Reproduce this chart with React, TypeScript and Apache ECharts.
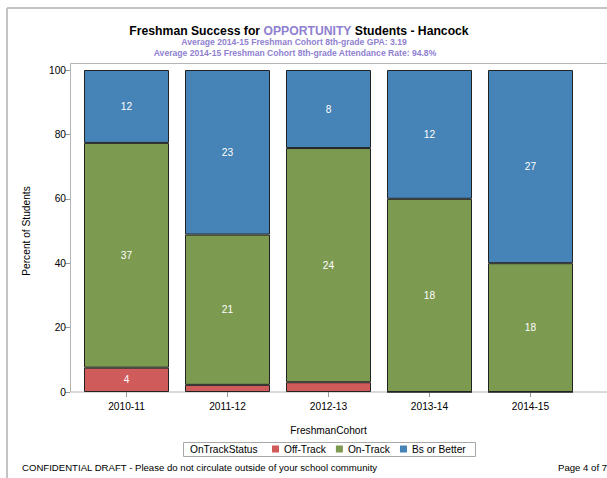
import React, { useEffect, useRef } from "react";
import * as echarts from "echarts";

const categories = ["2010-11", "2011-12", "2012-13", "2013-14", "2014-15"];
const offTrack = [4, 1, 1, 0, 0];
const onTrack = [37, 21, 24, 18, 18];
const bsOrBetter = [12, 23, 8, 12, 27];
const yTicks = [0, 20, 40, 60, 80, 100];

const FONT = "'Liberation Sans', Arial, sans-serif";

export default function App() {
  const ref = useRef<HTMLDivElement>(null);
  useEffect(() => {
    if (!ref.current) return;
    const chart = echarts.init(ref.current, null, { renderer: "svg" });
    const totals = categories.map((_, i) => offTrack[i] + onTrack[i] + bsOrBetter[i]);
    const mk = (arr: number[]) =>
      arr.map((v, i) => ({
        value: (v / totals[i]) * 100,
        count: v,
        label: { show: v >= 2 },
      }));
    const seriesDefs = [
      { name: "Off-Track", data: offTrack, color: "#cf5b5b" },
      { name: "On-Track", data: onTrack, color: "#7d9a51" },
      { name: "Bs or Better", data: bsOrBetter, color: "#4683b6" },
    ];
    chart.setOption({
      animation: false,
      textStyle: { fontFamily: FONT },
      grid: { left: 76, width: 505, top: 70, bottom: 86 },
      title: {
        text: "{b|Freshman Success for }{p|OPPORTUNITY}{b| Students - Hancock}",
        left: 294,
        textAlign: "center",
        top: 20,
        textStyle: {
          rich: {
            b: { fontSize: 12.2, fontWeight: "bold", color: "#000", fontFamily: FONT },
            p: { fontSize: 12.2, color: "#8f7fd0", fontFamily: FONT },
          },
        },
      },
      legend: {
        data: seriesDefs.map((s) => s.name),
        left: 272,
        top: 444,
        padding: 0,
        itemWidth: 7,
        itemHeight: 7,
        itemGap: 10,
        icon: "rect",
        itemStyle: { borderWidth: 0 },
        textStyle: { fontSize: 10.2, color: "#000", fontFamily: FONT },
      },
      xAxis: {
        type: "category",
        data: categories,
        name: "FreshmanCohort",
        nameLocation: "middle",
        nameGap: 33,
        nameTextStyle: { fontSize: 10.2, color: "#000" },
        axisLine: { show: false },
        axisTick: { show: true, alignWithLabel: true, length: 5, lineStyle: { color: "#999" } },
        axisLabel: { fontSize: 10.2, color: "#000", margin: 9 },
      },
      yAxis: {
        type: "value",
        min: 0,
        max: 100,
        interval: 20,
        offset: 6,
        name: "Percent of Students",
        nameLocation: "middle",
        nameGap: 39,
        nameTextStyle: { fontSize: 10.2, color: "#000" },
        axisLine: { show: false },
        axisTick: { show: true, length: 5, lineStyle: { color: "#999" } },
        axisLabel: {
          fontSize: 10.2,
          color: "#000",
          margin: 4,
          customValues: yTicks,
        },
        splitLine: { show: false },
      },
      series: seriesDefs.map((s) => ({
        name: s.name,
        type: "bar",
        stack: "all",
        barWidth: 85,
        data: mk(s.data),
        itemStyle: { color: s.color, borderColor: "#222", borderWidth: 1 },
        label: {
          show: true,
          position: "inside",
          color: "#fff",
          fontSize: 10.2,
          formatter: (p: any) => String(p.data.count),
        },
      })),
      graphic: [
        { type: "line", shape: { x1: 7, y1: 8, x2: 607, y2: 8 }, style: { stroke: "#c4c4c4", lineWidth: 2 } },
        { type: "line", shape: { x1: 7, y1: 8, x2: 7, y2: 478 }, style: { stroke: "#c4c4c4", lineWidth: 2 } },
        { type: "rect", shape: { x: 70.5, y: 63.5, width: 700, height: 328.5 }, style: { stroke: "#b4b4b4", fill: "none", lineWidth: 1 } },
        {
          type: "text",
          x: 294,
          y: 41.5,
          style: {
            text: "Average 2014-15 Freshman Cohort 8th-grade GPA: 3.19",
            fill: "#8f7fd0",
            font: "bold 8.6px " + FONT,
            align: "center",
            verticalAlign: "middle",
          },
        },
        {
          type: "text",
          x: 295,
          y: 53,
          style: {
            text: "Average 2014-15 Freshman Cohort 8th-grade Attendance Rate: 94.8%",
            fill: "#8f7fd0",
            font: "bold 8.6px " + FONT,
            align: "center",
            verticalAlign: "middle",
          },
        },
        { type: "rect", shape: { x: 183.5, y: 442.5, width: 292, height: 14 }, style: { stroke: "#a8a8a8", fill: "none", lineWidth: 1 } },
        {
          type: "text",
          x: 190,
          y: 449.5,
          style: { text: "OnTrackStatus", fill: "#000", font: "10.2px " + FONT, verticalAlign: "middle" },
        },
        {
          type: "text",
          x: 22,
          y: 467,
          style: {
            text: "CONFIDENTIAL DRAFT - Please do not circulate outside of your school community",
            fill: "#000",
            font: "9.6px " + FONT,
            verticalAlign: "middle",
          },
        },
        {
          type: "text",
          x: 558,
          y: 467,
          style: { text: "Page 4 of 7", fill: "#000", font: "9.6px " + FONT, verticalAlign: "middle" },
        },
      ],
    });
    return () => chart.dispose();
  }, []);
  return <div ref={ref} style={{ width: 607, height: 478, position: "absolute", left: 0, top: 0 }} />;
}
